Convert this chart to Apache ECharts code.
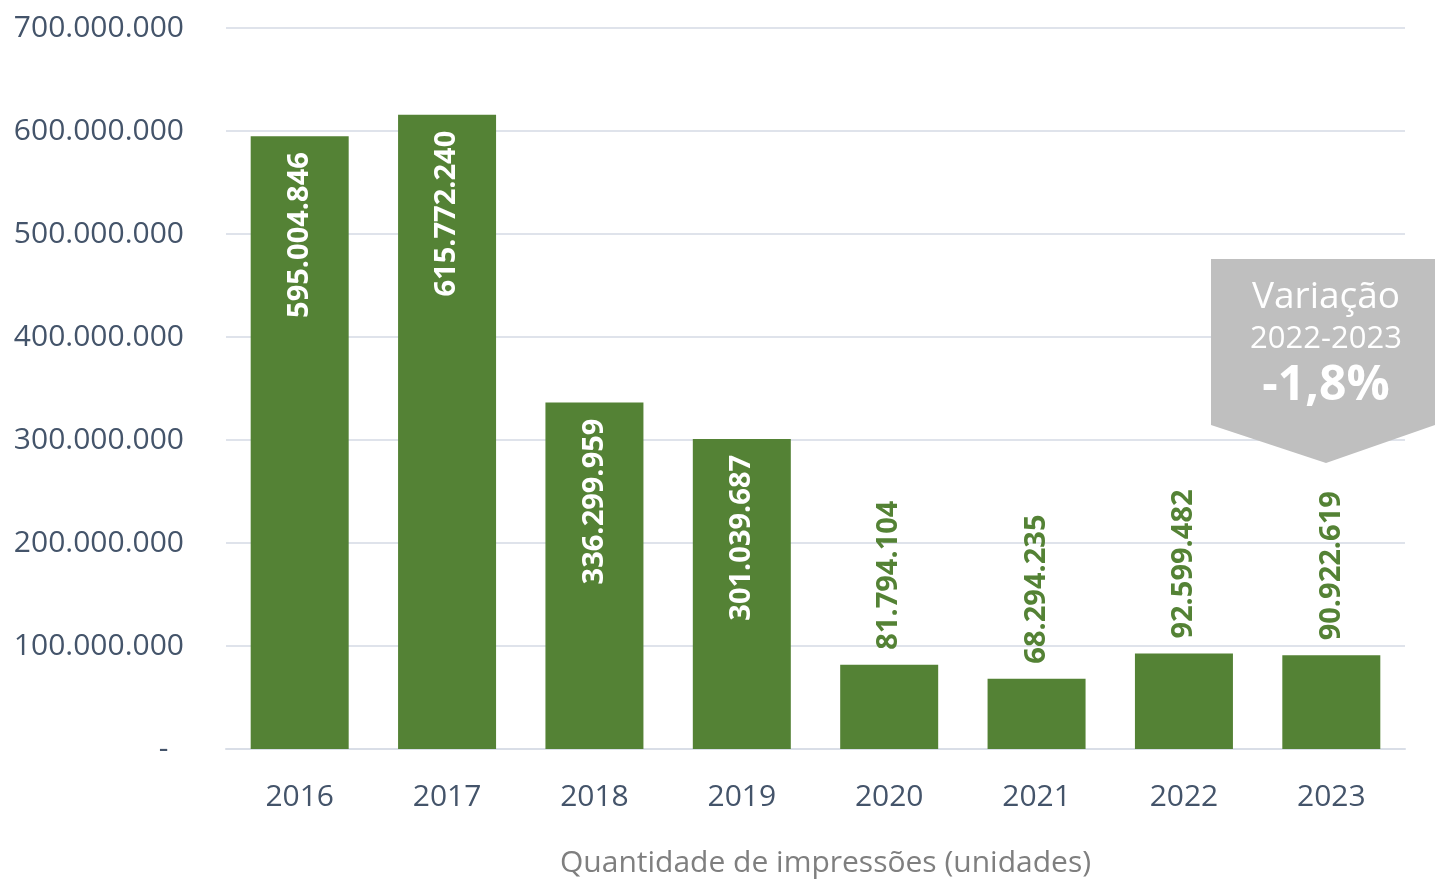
<!DOCTYPE html>
<html><head><meta charset="utf-8">
<script src="https://cdn.jsdelivr.net/npm/echarts@6/dist/echarts.min.js"></script>
<style>html,body{margin:0;padding:0;background:#fff}#c{width:1435px;height:879px}</style>
</head><body><div id="c"></div>
<script>
const categories = ['2016','2017','2018','2019','2020','2021','2022','2023'];
const impressions = [595004846, 615772240, 336299959, 301039687, 81794104, 68294235, 92599482, 90922619];
const axisName = 'Quantidade de impressões (unidades)';
const calloutLines = ['Variação', '2022-2023', '-1,8%'];

const fmt = v => v === 0 ? '-  ' : String(Math.round(v)).replace(/\B(?=(\d{3})+(?!\d))/g, '.');
const FONT = 'Open Sans';
const chart = echarts.init(document.getElementById('c'));
const data = impressions.map(v => {
  const inside = v > 200000000;
  return {
    value: v,
    label: inside ? {
      position: 'insideTop', distance: 16, rotate: 90, align: 'right', verticalAlign: 'middle',
      color: '#ffffff'
    } : {
      position: 'top', distance: 15, rotate: 90, align: 'left', verticalAlign: 'middle',
      color: '#548235'
    }
  };
});
chart.setOption({
  animation: false,
  textStyle: { fontFamily: FONT },
  grid: { left: 226, right: 30, top: 28, bottom: 130, containLabel: false, outerBoundsMode: 'none' },
  xAxis: {
    type: 'category', data: categories,
    axisLine: { lineStyle: { color: '#D9DEE7', width: 2 } },
    axisTick: { show: false },
    axisLabel: { color: '#44546A', fontSize: 30, margin: 33, fontFamily: FONT },
    name: axisName, nameLocation: 'middle', nameGap: 99,
    nameTextStyle: { color: '#7F7F7F', fontSize: 30, fontFamily: FONT, padding: [0, 0, 0, 20] }
  },
  yAxis: {
    type: 'value', min: 0, max: 700000000, interval: 100000000,
    axisLine: { show: false }, axisTick: { show: false },
    splitLine: { lineStyle: { color: '#DFE3EB', width: 2 } },
    axisLabel: { color: '#44546A', fontSize: 30, margin: 42, formatter: fmt, fontFamily: FONT }
  },
  series: [{
    type: 'bar', data: data, barWidth: 98,
    itemStyle: { color: '#548235' },
    label: { show: true, formatter: p => fmt(p.value), fontSize: 29, fontWeight: 'bold', fontFamily: FONT }
  }],
  graphic: [
    { type: 'polygon', shape: { points: [[1211,259],[1435,259],[1435,425],[1326,463],[1211,425]] },
      style: { fill: '#BFBFBF' }, z: 10 },
    { type: 'text', x: 1326, y: 297, z: 11, style: { text: calloutLines[0], fill: '#fff', font: '37px "Open Sans"', align: 'center', verticalAlign: 'middle' } },
    { type: 'text', x: 1326, y: 339, z: 11, style: { text: calloutLines[1], fill: '#fff', font: '31px "Open Sans"', align: 'center', verticalAlign: 'middle' } },
    { type: 'text', x: 1326, y: 386, z: 11, style: { text: calloutLines[2], fill: '#fff', font: 'bold 48px "Open Sans"', align: 'center', verticalAlign: 'middle' } }
  ]
});
</script></body></html>
